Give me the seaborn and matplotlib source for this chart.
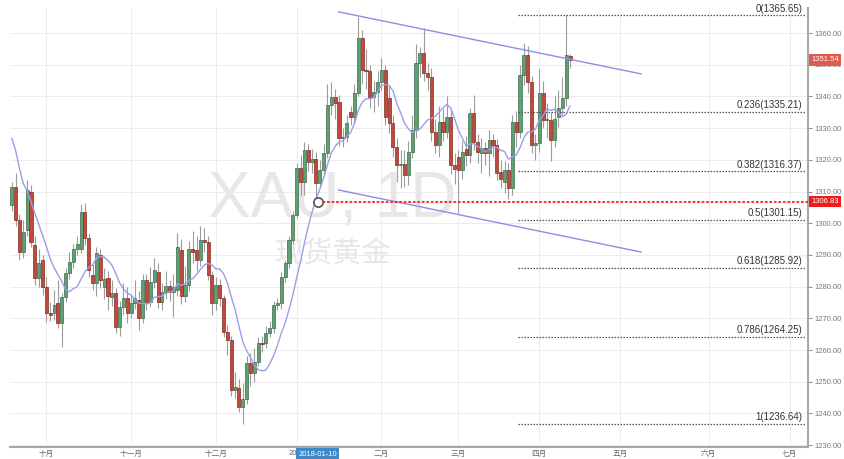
import numpy as np
import pandas as pd
import matplotlib
matplotlib.use("Agg")
import matplotlib.pyplot as plt
import matplotlib.transforms as mtransforms
import seaborn as sns

# XAU spot daily candles, 2017-09-19 .. 2018-04-12 (one row per trading day)
opens = [1305.7, 1311.3, 1301.0, 1291.0, 1297.9, 1310.0, 1293.1, 1282.6, 1288.4, 1280.0,
         1271.6, 1271.6, 1274.7, 1268.4, 1276.8, 1284.2, 1287.9, 1291.9, 1292.0, 1303.6,
         1295.2, 1283.7, 1281.0, 1290.0, 1280.0, 1282.6, 1276.6, 1277.9, 1267.4, 1273.7,
         1276.3, 1271.6, 1274.7, 1275.8, 1270.0, 1282.1, 1275.3, 1281.3, 1284.7, 1275.3,
         1278.4, 1280.2, 1278.4, 1278.9, 1291.6, 1277.0, 1280.5, 1292.0, 1291.6, 1288.4,
         1294.7, 1294.0, 1283.6, 1274.7, 1280.5, 1276.3, 1265.8, 1263.1, 1247.4, 1247.9,
         1242.1, 1244.4, 1255.8, 1252.8, 1256.3, 1262.3, 1262.1, 1265.5, 1266.8, 1274.2,
         1274.7, 1283.1, 1287.3, 1294.7, 1302.6, 1317.3, 1313.1, 1323.1, 1319.4, 1320.4,
         1312.6, 1316.8, 1322.2, 1337.3, 1339.7, 1338.3, 1326.8, 1327.2, 1335.2, 1333.6,
         1341.0, 1358.3, 1348.3, 1348.0, 1339.9, 1341.5, 1344.6, 1348.3, 1339.4, 1331.5,
         1324.1, 1318.3, 1318.8, 1315.2, 1322.5, 1329.4, 1350.4, 1353.6, 1347.3, 1346.2,
         1328.9, 1324.7, 1332.0, 1328.9, 1333.6, 1318.3, 1321.0, 1316.8, 1323.5, 1321.5,
         1334.7, 1325.7, 1322.0, 1323.6, 1322.0, 1326.2, 1324.7, 1316.2, 1313.1, 1316.8,
         1311.0, 1332.0, 1328.9, 1346.7, 1353.1, 1344.6, 1324.7, 1325.2, 1341.0, 1332.5,
         1332.5, 1326.2, 1333.6, 1336.2, 1339.4, 1352.7]
highs = [1313.0, 1315.7, 1303.0, 1301.0, 1313.6, 1312.0, 1296.0, 1292.0, 1290.0, 1283.0,
         1275.0, 1279.0, 1282.0, 1278.0, 1286.0, 1291.0, 1293.5, 1296.0, 1306.0, 1306.5,
         1297.0, 1287.0, 1292.5, 1292.0, 1286.0, 1285.0, 1282.0, 1279.5, 1275.5, 1281.0,
         1280.0, 1277.5, 1282.0, 1278.5, 1284.0, 1284.0, 1286.2, 1289.0, 1287.5, 1281.0,
         1285.0, 1282.0, 1284.0, 1297.0, 1295.0, 1286.5, 1294.5, 1297.5, 1296.0, 1299.0,
         1298.5, 1296.0, 1285.0, 1283.0, 1282.5, 1277.5, 1268.0, 1264.5, 1253.0, 1251.0,
         1249.5, 1258.0, 1259.0, 1260.5, 1264.0, 1264.5, 1267.5, 1269.0, 1275.5, 1276.5,
         1284.5, 1288.5, 1296.0, 1304.0, 1319.0, 1321.5, 1325.5, 1325.0, 1323.5, 1322.5,
         1320.0, 1325.0, 1344.0, 1344.5, 1342.5, 1340.5, 1330.0, 1334.0, 1337.0, 1344.0,
         1365.2, 1361.0, 1355.0, 1350.0, 1345.0, 1348.0, 1352.0, 1350.0, 1343.5, 1334.0,
         1327.0, 1323.0, 1323.0, 1326.0, 1334.0, 1356.7, 1355.5, 1361.5, 1350.5, 1349.0,
         1333.0, 1337.0, 1336.0, 1340.0, 1336.0, 1322.0, 1323.0, 1326.0, 1327.5, 1336.5,
         1340.5, 1328.0, 1327.0, 1325.5, 1329.5, 1328.0, 1326.5, 1320.0, 1319.5, 1319.0,
         1334.0, 1335.5, 1350.0, 1357.0, 1356.0, 1346.5, 1328.0, 1348.5, 1345.0, 1338.0,
         1335.0, 1340.0, 1342.0, 1346.0, 1365.65, 1353.5]
lows = [1304.0, 1299.0, 1288.4, 1289.0, 1296.0, 1292.5, 1280.5, 1280.0, 1277.5, 1268.9,
        1269.0, 1269.5, 1267.0, 1261.0, 1275.0, 1282.5, 1286.0, 1290.0, 1290.5, 1293.0,
        1283.0, 1279.0, 1277.0, 1279.5, 1276.0, 1272.5, 1274.0, 1265.3, 1264.5, 1271.0,
        1268.5, 1270.0, 1273.0, 1266.3, 1268.5, 1272.5, 1273.5, 1279.5, 1273.3, 1272.5,
        1276.0, 1275.5, 1270.5, 1277.0, 1274.5, 1275.0, 1278.5, 1287.5, 1285.0, 1286.5,
        1291.0, 1282.0, 1271.0, 1272.5, 1274.0, 1264.0, 1258.5, 1245.5, 1245.0, 1240.5,
        1236.64, 1243.0, 1248.5, 1250.0, 1255.0, 1259.5, 1260.5, 1264.0, 1265.5, 1272.5,
        1273.0, 1281.5, 1286.0, 1293.5, 1301.5, 1309.0, 1309.0, 1316.5, 1316.0, 1306.83,
        1311.0, 1315.0, 1320.5, 1334.0, 1333.0, 1324.5, 1324.0, 1325.5, 1331.0, 1331.5,
        1340.0, 1344.0, 1342.5, 1336.5, 1335.0, 1337.0, 1342.0, 1331.0, 1328.5, 1321.0,
        1313.0, 1311.0, 1311.5, 1312.0, 1320.5, 1327.0, 1346.0, 1345.0, 1342.0, 1326.0,
        1322.0, 1321.0, 1326.0, 1327.0, 1315.5, 1312.5, 1303.2, 1314.0, 1318.0, 1319.0,
        1323.0, 1319.0, 1316.0, 1318.5, 1315.0, 1321.0, 1313.5, 1311.0, 1309.5, 1307.5,
        1309.0, 1324.0, 1327.0, 1343.5, 1341.0, 1322.0, 1320.0, 1322.5, 1330.0, 1327.0,
        1319.5, 1324.0, 1330.5, 1334.0, 1337.0, 1349.0]
closes = [1311.3, 1301.0, 1291.0, 1297.3, 1310.5, 1294.2, 1282.6, 1287.3, 1280.0, 1271.6,
          1271.2, 1274.2, 1268.4, 1276.8, 1284.2, 1287.9, 1291.9, 1293.5, 1303.6, 1295.2,
          1285.2, 1281.0, 1290.5, 1282.1, 1282.3, 1276.9, 1277.9, 1267.4, 1273.7, 1276.3,
          1271.6, 1274.7, 1276.3, 1270.0, 1282.1, 1275.3, 1281.3, 1285.3, 1275.3, 1278.4,
          1280.2, 1278.4, 1280.0, 1292.4, 1276.9, 1280.5, 1292.0, 1291.0, 1288.4, 1294.7,
          1294.0, 1283.6, 1274.7, 1280.5, 1276.3, 1265.8, 1263.1, 1247.4, 1248.4, 1242.1,
          1244.4, 1255.8, 1252.8, 1256.3, 1262.1, 1261.9, 1265.5, 1266.8, 1274.2, 1274.7,
          1283.1, 1287.3, 1294.7, 1302.6, 1317.3, 1313.1, 1323.1, 1319.4, 1320.4, 1312.6,
          1316.8, 1322.2, 1337.3, 1339.7, 1338.0, 1326.8, 1327.2, 1331.5, 1333.6, 1341.0,
          1358.3, 1348.3, 1348.0, 1339.9, 1341.5, 1344.6, 1348.3, 1333.6, 1331.5, 1324.1,
          1318.3, 1318.8, 1315.2, 1322.5, 1329.4, 1350.4, 1353.6, 1347.3, 1346.2, 1328.9,
          1324.7, 1332.0, 1328.9, 1333.6, 1318.3, 1317.0, 1316.8, 1322.5, 1321.5, 1334.7,
          1325.7, 1322.5, 1323.6, 1322.0, 1326.2, 1324.7, 1315.7, 1314.1, 1316.8, 1311.0,
          1332.0, 1328.9, 1346.7, 1353.1, 1344.6, 1324.7, 1325.2, 1341.0, 1332.5, 1333.0,
          1326.2, 1333.0, 1336.2, 1339.4, 1353.1, 1351.54]

# closes before the first shown candle, only used to start the 10-day average
ma_seed_closes = [1339, 1348, 1346, 1332, 1330, 1318, 1322, 1314, 1308]
ma_window = 10

# month axis (bar index of first trading day, label)
month_pos = [9, 31, 53, 74, 96, 116, 137, 158, 181, 202]
month_labels = ["十月", "十一月", "十二月", "2018", "二月", "三月", "四月", "五月", "六月", "七月"]

# drawn channel
channel_x = [84.8, 163.5]
upper_channel = [1366.7, 1347.1]
lower_channel = [1310.5, 1290.9]

# fibonacci retracement
fib_ratios = ["0", "0.236", "0.382", "0.5", "0.618", "0.786", "1"]
fib_levels = [1365.65, 1335.21, 1316.37, 1301.15, 1285.92, 1264.25, 1236.64]
fib_start = 131.5

# crosshair / markers
cross_idx = 79.5
cross_price = 1306.83
cross_date = "2018-01-10"
last_price = 1351.54

sns.set_theme(style="whitegrid")
plt.rcParams["font.family"] = ["Liberation Sans", "Noto Sans CJK SC", "DejaVu Sans"]

fig = plt.figure(figsize=(8.44, 4.59), dpi=100)
ax = fig.add_axes([10 / 844, 12 / 459, 798 / 844, 439 / 459])
ax.set_facecolor("white")

xmin, xmax = -0.45, 206.8
ax.set_xlim(xmin, xmax)
ax.set_ylim(1229.4, 1367.9)

# watermark
ax.text(0.4035, 0.563, "XAU, 1D", transform=ax.transAxes, fontsize=46,
        color="#e7e7e7", ha="center", va="center", zorder=1)
ax.text(0.405, 0.442, "现货黄金", transform=ax.transAxes, fontsize=21,
        color="#e7e7e7", ha="center", va="center", zorder=1,
        family=["Noto Sans CJK SC", "DejaVu Sans"])

df = pd.DataFrame({"open": opens, "high": highs, "low": lows, "close": closes})
df["i"] = np.arange(len(df))
up = df["close"] >= df["open"]
body_lo = df[["open", "close"]].min(axis=1)
body_h = (df["close"] - df["open"]).abs().clip(lower=0.35)

ax.vlines(df["i"], df["low"], df["high"], color="#9c9c9c", lw=0.8, zorder=2)
ax.bar(df["i"][up], body_h[up], bottom=body_lo[up], width=0.8,
       color="#5f9f74", edgecolor="#3d6b4c", linewidth=0.5, zorder=3)
ax.bar(df["i"][~up], body_h[~up], bottom=body_lo[~up], width=0.8,
       color="#c4493c", edgecolor="#7d2c23", linewidth=0.5, zorder=3)

# moving average
all_closes = pd.Series(ma_seed_closes + closes)
ma = all_closes.rolling(ma_window).mean().iloc[len(ma_seed_closes):].to_numpy()
sns.lineplot(x=df["i"], y=ma, ax=ax, color="#9d9de8", lw=1.0, zorder=4)

# channel
ax.plot(channel_x, upper_channel, color="#8d8de6", lw=1.0, zorder=4)
ax.plot(channel_x, lower_channel, color="#8d8de6", lw=1.0, zorder=4)

# fibonacci levels
for r, lvl in zip(fib_ratios, fib_levels):
    ax.hlines(lvl, fib_start, xmax - 0.4, colors="#555555", linestyles=(0, (1.2, 1.2)),
              lw=0.9, zorder=3)
    ax.text(205.3, lvl + 0.5, f"{r}({lvl:.2f})", ha="right", va="bottom",
            fontsize=7, color="#333333", zorder=5)

# crosshair price line
ax.hlines(cross_price, cross_idx, xmax, colors="#ff1f1f", linestyles=(0, (1.5, 1)),
          lw=1.3, zorder=5)
ax.scatter([cross_idx], [cross_price], s=45, facecolor="white", edgecolor="#555555",
           linewidth=1.2, zorder=6)

# axes styling
ax.yaxis.tick_right()
ax.set_yticks(np.arange(1230, 1361, 10))
ax.set_yticklabels([f"{v:.2f}" for v in np.arange(1230, 1361, 10)])
ax.set_xticks(month_pos)
ax.set_xticklabels(month_labels)
ax.tick_params(axis="y", labelsize=5.5, colors="#777777", length=3, width=0.6,
               direction="out", pad=2)
ax.tick_params(axis="x", labelsize=5.5, colors="#777777", length=2, width=0.6,
               direction="out", pad=0.5, labelcolor="#666666")
ax.grid(True, color="#ececec", lw=0.7)
for s in ["left", "top"]:
    ax.spines[s].set_visible(False)
for s in ["right", "bottom"]:
    ax.spines[s].set_color("#a8a8a8")
    ax.spines[s].set_linewidth(1.5)
ax.set_xlabel("")
ax.set_ylabel("")

# price tags on the right axis
ytrans = mtransforms.blended_transform_factory(ax.transAxes, ax.transData)
ax.text(1.004, last_price, f"{last_price:.2f}", transform=ytrans, ha="left", va="center",
        fontsize=5.5, color="white", zorder=10, clip_on=False,
        bbox=dict(boxstyle="square,pad=0.3", fc="#e25a4e", ec="none"))
ax.text(1.004, cross_price, f"{cross_price:.2f}", transform=ytrans, ha="left", va="center",
        fontsize=5.5, color="white", zorder=10, clip_on=False,
        bbox=dict(boxstyle="square,pad=0.3", fc="#f21c1c", ec="none"))

# date tag on the x axis
xtrans = mtransforms.blended_transform_factory(ax.transData, ax.transAxes)
ax.text(cross_idx, -0.008, cross_date, transform=xtrans, ha="center", va="top",
        fontsize=5.5, color="white", zorder=10, clip_on=False,
        bbox=dict(boxstyle="square,pad=0.3", fc="#3f88cc", ec="none"))

fig.savefig("out.png", dpi=100, facecolor="white")
